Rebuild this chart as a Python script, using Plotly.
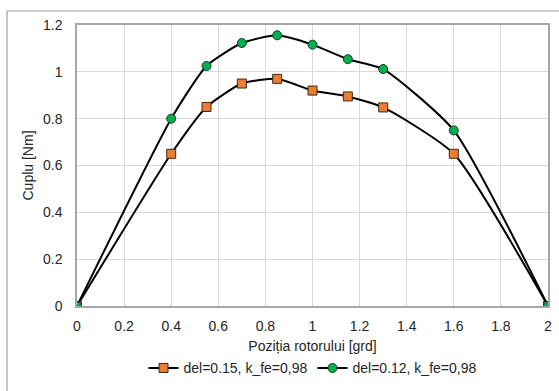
import plotly.graph_objects as go

x_pos = [0, 0.4, 0.55, 0.7, 0.85, 1.0, 1.15, 1.3, 1.6, 2.0]
cuplu_015 = [0, 0.65, 0.85, 0.95, 0.97, 0.92, 0.895, 0.848, 0.65, 0]
cuplu_012 = [0, 0.80, 1.025, 1.123, 1.156, 1.116, 1.054, 1.012, 0.75, 0]
name_015 = "del=0.15, k_fe=0,98"
name_012 = "del=0.12, k_fe=0,98"
x_ticks = [0, 0.2, 0.4, 0.6, 0.8, 1.0, 1.2, 1.4, 1.6, 1.8, 2.0]
x_ticktext = ["0", "0.2", "0.4", "0.6", "0.8", "1", "1.2", "1.4", "1.6", "1.8", "2"]
y_ticks = [0, 0.2, 0.4, 0.6, 0.8, 1.0, 1.2]
y_ticktext = ["0", "0.2", "0.4", "0.6", "0.8", "1", "1.2"]

fig = go.Figure()
fig.add_trace(go.Scatter(
    x=x_pos, y=cuplu_015, name=name_015, mode="lines+markers",
    line=dict(color="black", width=2, shape="spline", smoothing=0.55),
    marker=dict(symbol="square", size=9, color="#ed7d31", line=dict(color="#3a2a1a", width=1)),
))
fig.add_trace(go.Scatter(
    x=x_pos, y=cuplu_012, name=name_012, mode="lines+markers",
    line=dict(color="black", width=2, shape="spline", smoothing=0.55),
    marker=dict(symbol="circle", size=9, color="#00b050", line=dict(color="#1a3a1a", width=1)),
))

axis_font = dict(family="Liberation Sans, Arial, sans-serif", size=14, color="#262626")
fig.update_layout(
    width=559, height=391,
    margin=dict(l=77, r=11, t=25, b=85, autoexpand=False),
    paper_bgcolor="white", plot_bgcolor="white",
    font=dict(family="Liberation Sans, Arial, sans-serif", size=14, color="#262626"),
    showlegend=True,
    legend=dict(orientation="h", x=0.5, xanchor="center", y=-0.165, yanchor="top",
                font=dict(size=14, color="#262626"), itemwidth=30, tracegroupgap=0),
    xaxis=dict(range=[0, 2], tickvals=x_ticks, ticktext=x_ticktext, automargin=False,
               showgrid=True, gridcolor="#d9d9d9", gridwidth=1,
               showline=True, linecolor="#a6a6a6", linewidth=1.5, mirror=True,
               zeroline=False, ticks="", tickfont=axis_font, ticklabelstandoff=6,
               title=dict(text="Poziția rotorului [grd]", font=axis_font, standoff=9)),
    yaxis=dict(range=[0, 1.2], tickvals=y_ticks, ticktext=y_ticktext, automargin=False,
               showgrid=True, gridcolor="#d9d9d9", gridwidth=1,
               showline=True, linecolor="#a6a6a6", linewidth=1.5, mirror=True,
               zeroline=False, ticks="", tickfont=axis_font, ticklabelstandoff=10,
               title=dict(text="Cuplu [Nm]", font=axis_font, standoff=6)),
)
fig.add_shape(type="rect", xref="paper", yref="paper",
              x0=-0.1486, x1=1.2, y0=-0.5, y1=1.0498,
              line=dict(color="#a0a0a0", width=1.2), fillcolor="rgba(0,0,0,0)", layer="below")
fig.write_html("out.html")
